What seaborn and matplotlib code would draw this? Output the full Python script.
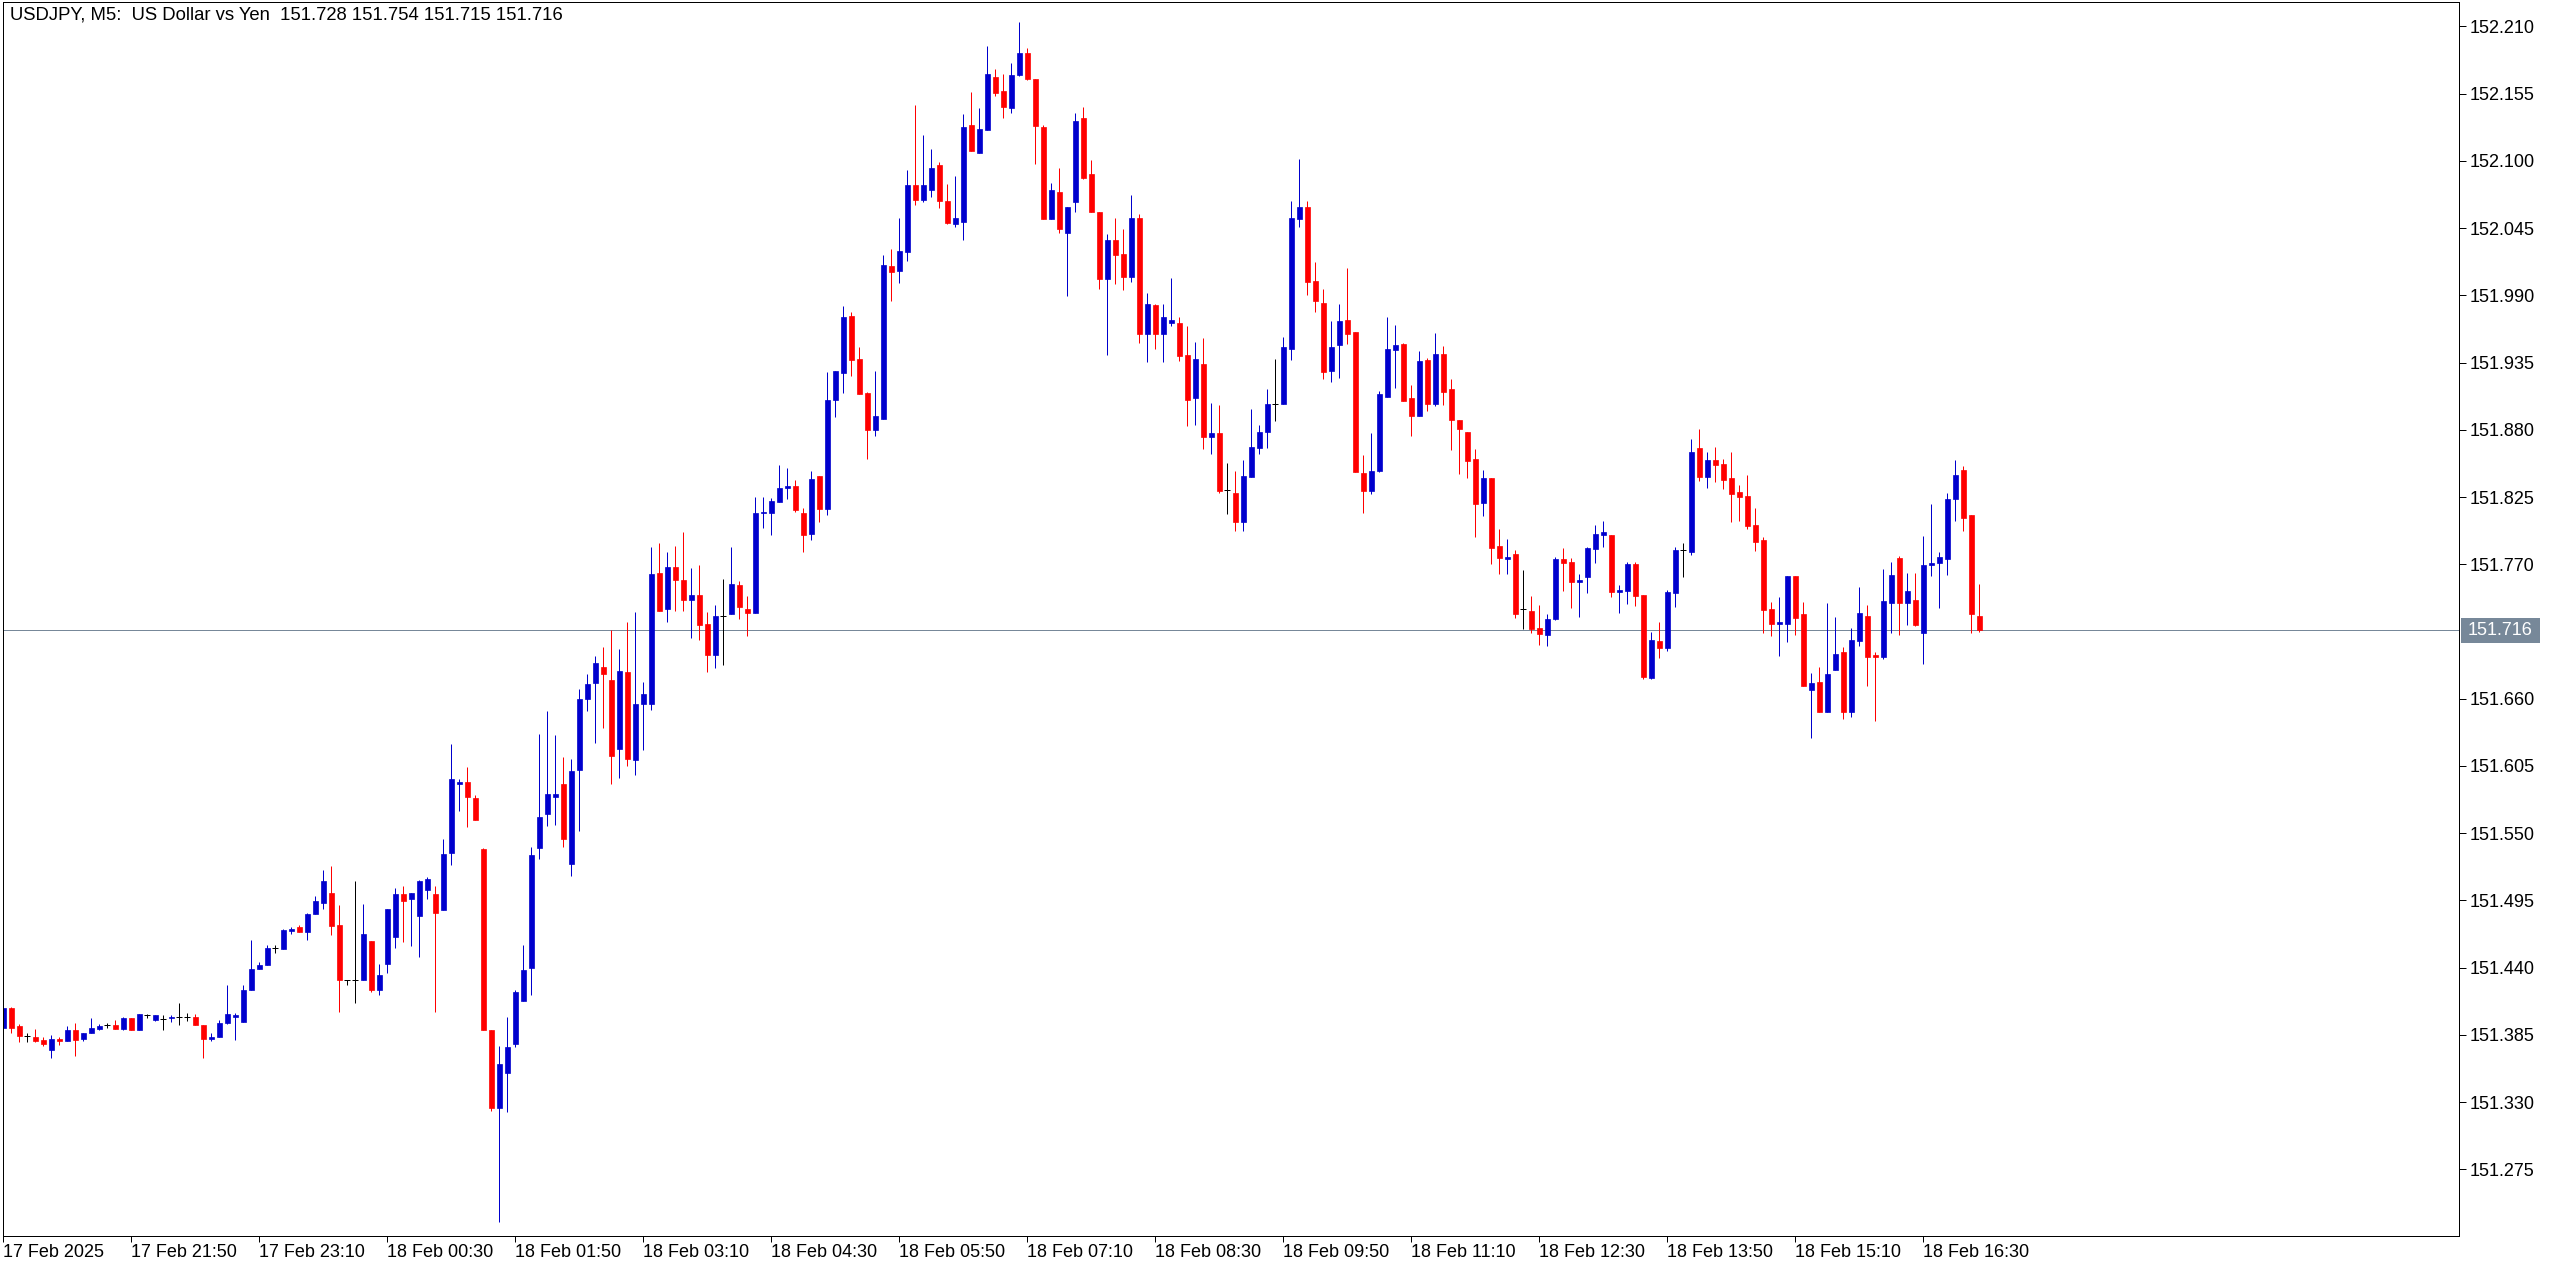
import numpy as np
import pandas as pd
import matplotlib
matplotlib.use('Agg')
import matplotlib.pyplot as plt
import matplotlib.transforms as mtransforms
from matplotlib.patches import Rectangle
import seaborn as sns

# USDJPY M5, 17 Feb 2025 20:30 -> 18 Feb 2025 17:05 (248 bars)
open_ = [
    151.3903, 151.4072, 151.3925, 151.3843, 151.3835, 151.3811, 151.3723, 151.3819, 151.3797, 151.3892,
    151.3813, 151.3862, 151.3901, 151.3933, 151.3933, 151.3901, 151.3991, 151.3892, 151.4015, 151.3969,
    151.3982, 151.3985, 151.3999, 151.3999, 151.3999, 151.3933, 151.3813, 151.3829, 151.3949, 151.3993,
    151.3952, 151.4214, 151.4386, 151.4419, 151.4563, 151.4550, 151.4697, 151.4735, 151.4689, 151.4836,
    151.4926, 151.5013, 151.4751, 151.4296, 151.4296, 151.4296, 151.4621, 151.4214, 151.4427, 151.4648,
    151.5005, 151.4959, 151.4820, 151.5033, 151.5005, 151.4869, 151.5335, 151.5905, 151.5922, 151.5791,
    151.5374, 151.3892, 151.3249, 151.3535, 151.3772, 151.4124, 151.4394, 151.5376, 151.5654, 151.5794,
    151.5905, 151.5245, 151.6015, 151.6600, 151.6726, 151.6863, 151.6756, 151.6186, 151.6822, 151.6096,
    151.6554, 151.6554, 151.7632, 151.7332, 151.7681, 151.7575, 151.7405, 151.7452, 151.7214, 151.6955,
    151.7280, 151.7291, 151.7534, 151.7337, 151.7305, 151.8117, 151.8117, 151.8213, 151.8322, 151.8344,
    151.8123, 151.7946, 151.8426, 151.8150, 151.9048, 151.9269, 151.9735, 151.9383, 151.9105, 151.8802,
    151.8892, 152.0144, 152.0103, 152.0251, 152.0807, 152.0684, 152.0766, 152.0963, 152.0676, 152.0480,
    152.0504, 152.1290, 152.1061, 152.1249, 152.1683, 152.1568, 152.1429, 152.1699, 152.1879, 152.1666,
    152.1274, 152.0521, 152.0742, 152.0414, 152.0660, 152.1355, 152.0889, 152.0578, 152.0038, 152.0349,
    152.0242, 152.0054, 152.0529, 151.9588, 151.9825, 151.9588, 151.9678, 151.9678, 151.9416, 151.9064,
    151.9342, 151.8745, 151.8777, 151.8308, 151.8286, 151.8049, 151.8417, 151.8655, 151.8786, 151.9012,
    151.9015, 151.9465, 152.0521, 152.0627, 152.0021, 151.9841, 151.9285, 151.9498, 151.9702, 151.9604,
    151.8450, 151.8303, 151.8466, 151.9072, 151.9457, 151.9506, 151.9064, 151.8917, 151.9375, 151.9015,
    151.9424, 151.9138, 151.8884, 151.8786, 151.8565, 151.8205, 151.8402, 151.7853, 151.7747, 151.7788,
    151.7332, 151.7321, 151.7182, 151.7125, 151.7256, 151.7747, 151.7722, 151.7559, 151.7600, 151.7829,
    151.7943, 151.7943, 151.7477, 151.7485, 151.7706, 151.7452, 151.6773, 151.7076, 151.7019, 151.7469,
    151.7821, 151.7804, 151.8655, 151.8418, 151.8557, 151.8524, 151.8402, 151.8295, 151.8262, 151.8025,
    151.7902, 151.7338, 151.7215, 151.7215, 151.7608, 151.7297, 151.6675, 151.6740, 151.6494, 151.6838,
    151.6985, 151.6494, 151.7076, 151.7280, 151.6961, 151.6945, 151.7386, 151.7755, 151.7386, 151.7411,
    151.7141, 151.7697, 151.7714, 151.7747, 151.8238, 151.8475, 151.8107, 151.7280,
]
high = [
    151.4072, 151.4081, 151.3941, 151.3862, 151.3901, 151.3830, 151.3851, 151.3835, 151.3925, 151.3950,
    151.3868, 151.3991, 151.3941, 151.3950, 151.3974, 151.3999, 151.3991, 151.4023, 151.4023, 151.4015,
    151.4015, 151.4015, 151.4113, 151.4031, 151.4023, 151.3933, 151.3868, 151.3974, 151.4260, 151.4031,
    151.4260, 151.4629, 151.4449, 151.4588, 151.4588, 151.4719, 151.4735, 151.4751, 151.4850, 151.4989,
    151.5202, 151.5234, 151.4915, 151.4296, 151.5112, 151.4923, 151.4621, 151.4432, 151.4882, 151.5054,
    151.5071, 151.5013, 151.5120, 151.5144, 151.5071, 151.5455, 151.6233, 151.5946, 151.6045, 151.5815,
    151.5382, 151.3892, 151.3761, 151.3999, 151.4220, 151.4588, 151.5390, 151.6315, 151.6500, 151.6306,
    151.6126, 151.6110, 151.6680, 151.6800, 151.6953, 151.7026, 151.7165, 151.7010, 151.7231, 151.7313,
    151.6740, 151.7845, 151.7877, 151.7804, 151.7853, 151.7967, 151.7673, 151.7697, 151.7313, 151.7370,
    151.7583, 151.7845, 151.7566, 151.7444, 151.8254, 151.8254, 151.8246, 151.8516, 151.8491, 151.8393,
    151.8164, 151.8467, 151.8426, 151.9277, 151.9285, 151.9817, 151.9768, 151.9481, 151.9113, 151.9285,
    152.0234, 152.0283, 152.0537, 152.0922, 152.1454, 152.1208, 152.1094, 152.0987, 152.0815, 152.0873,
    152.1380, 152.1560, 152.1429, 152.1936, 152.1748, 152.1707, 152.1805, 152.2133, 152.1920, 152.1666,
    152.1290, 152.0823, 152.0938, 152.0627, 152.1396, 152.1445, 152.1004, 152.0578, 152.0398, 152.0537,
    152.0447, 152.0725, 152.0562, 151.9923, 151.9833, 151.9833, 152.0046, 151.9719, 151.9653, 151.9522,
    151.9555, 151.9023, 151.9007, 151.8532, 151.8466, 151.8557, 151.8974, 151.8843, 151.9138, 151.9383,
    151.9563, 152.0668, 152.1012, 152.0676, 152.0177, 151.9956, 151.9694, 151.9833, 152.0128, 151.9604,
    151.8597, 151.8777, 151.9121, 151.9719, 151.9661, 151.9514, 151.9163, 151.9449, 151.9384, 151.9596,
    151.9482, 151.9212, 151.8884, 151.8786, 151.8647, 151.8475, 151.8402, 151.7992, 151.7911, 151.7821,
    151.7657, 151.7444, 151.7370, 151.7297, 151.7763, 151.7837, 151.7755, 151.7624, 151.7845, 151.8025,
    151.8058, 151.7943, 151.7534, 151.7722, 151.7722, 151.7452, 151.7149, 151.7231, 151.7493, 151.7845,
    151.7878, 151.8721, 151.8803, 151.8622, 151.8663, 151.8565, 151.8622, 151.8352, 151.8434, 151.8164,
    151.7927, 151.7395, 151.7436, 151.7608, 151.7608, 151.7395, 151.6814, 151.6863, 151.7386, 151.7272,
    151.7026, 151.7182, 151.7517, 151.7370, 151.6985, 151.7665, 151.7722, 151.7771, 151.7632, 151.7632,
    151.7935, 151.8197, 151.7804, 151.8287, 151.8557, 151.8508, 151.8107, 151.7540,
]
low = [
    151.3903, 151.3862, 151.3789, 151.3789, 151.3794, 151.3759, 151.3658, 151.3764, 151.3797, 151.3674,
    151.3802, 151.3862, 151.3887, 151.3903, 151.3895, 151.3892, 151.3887, 151.3887, 151.3985, 151.3966,
    151.3887, 151.3952, 151.3928, 151.3966, 151.3928, 151.3658, 151.3802, 151.3829, 151.3936, 151.3805,
    151.3952, 151.4214, 151.4386, 151.4419, 151.4517, 151.4550, 151.4672, 151.4689, 151.4623, 151.4836,
    151.4877, 151.4664, 151.4034, 151.4255, 151.4108, 151.4296, 151.4198, 151.4173, 151.4353, 151.4558,
    151.4607, 151.4574, 151.4484, 151.4959, 151.4034, 151.4869, 151.5237, 151.5679, 151.5548, 151.5605,
    151.3887, 151.3224, 151.2316, 151.3216, 151.3748, 151.4124, 151.4173, 151.5286, 151.5556, 151.5565,
    151.5384, 151.5147, 151.5515, 151.6500, 151.6235, 151.6358, 151.5900, 151.5949, 151.6047, 151.5973,
    151.6178, 151.6505, 151.7315, 151.7225, 151.7315, 151.7315, 151.7094, 151.7078, 151.6816, 151.6849,
    151.6874, 151.7291, 151.7250, 151.7111, 151.7299, 151.7995, 151.7937, 151.8207, 151.8232, 151.8126,
    151.7798, 151.7900, 151.8050, 151.8100, 151.8909, 151.9105, 151.9244, 151.9097, 151.8565, 151.8753,
    151.8892, 151.9850, 152.0005, 152.0185, 152.0643, 152.0660, 152.0701, 152.0611, 152.0480, 152.0463,
    152.0357, 152.1077, 152.1061, 152.1249, 152.1535, 152.1347, 152.1396, 152.1691, 152.1658, 152.0971,
    152.0521, 152.0521, 152.0414, 151.9891, 152.0578, 152.0848, 152.0586, 151.9956, 151.9416, 151.9997,
    151.9940, 152.0013, 151.9514, 151.9359, 151.9465, 151.9359, 151.9653, 151.9367, 151.8835, 151.8843,
    151.8647, 151.8606, 151.8286, 151.8115, 151.7976, 151.7976, 151.8417, 151.8606, 151.8655, 151.8876,
    151.9015, 151.9375, 152.0463, 151.9907, 151.9768, 151.9219, 151.9195, 151.9228, 151.9506, 151.8458,
    151.8123, 151.8278, 151.8458, 151.9072, 151.9146, 151.9039, 151.8753, 151.8917, 151.8958, 151.8999,
    151.9007, 151.8639, 151.8442, 151.8410, 151.7927, 151.8099, 151.7706, 151.7624, 151.7624, 151.7264,
    151.7174, 151.7141, 151.7043, 151.7035, 151.7248, 151.7485, 151.7346, 151.7272, 151.7469, 151.7714,
    151.7845, 151.7436, 151.7305, 151.7379, 151.7362, 151.6765, 151.6765, 151.6937, 151.6994, 151.7354,
    151.7600, 151.7780, 151.8385, 151.8328, 151.8377, 151.8320, 151.8050, 151.8058, 151.7992, 151.7812,
    151.7141, 151.7117, 151.6953, 151.7068, 151.7125, 151.6708, 151.6282, 151.6494, 151.6494, 151.6838,
    151.6437, 151.6454, 151.7035, 151.6707, 151.6421, 151.6928, 151.7141, 151.7125, 151.7206, 151.7198,
    151.6887, 151.7607, 151.7346, 151.7616, 151.8058, 151.7976, 151.7141, 151.7150,
]
close = [
    151.4072, 151.3903, 151.3838, 151.3843, 151.3802, 151.3772, 151.3819, 151.3802, 151.3892, 151.3811,
    151.3868, 151.3909, 151.3925, 151.3933, 151.3895, 151.3991, 151.3892, 151.4023, 151.4015, 151.4015,
    151.3982, 151.3999, 151.3999, 151.3999, 151.3928, 151.3813, 151.3835, 151.3949, 151.4023, 151.4015,
    151.4220, 151.4391, 151.4424, 151.4563, 151.4563, 151.4711, 151.4719, 151.4689, 151.4841, 151.4948,
    151.5112, 151.4738, 151.4296, 151.4296, 151.4296, 151.4678, 151.4214, 151.4342, 151.4882, 151.5005,
    151.4942, 151.5013, 151.5112, 151.5128, 151.4844, 151.5333, 151.5946, 151.5922, 151.5794, 151.5605,
    151.3887, 151.3249, 151.3614, 151.3753, 151.4203, 151.4383, 151.5324, 151.5635, 151.5824, 151.5824,
    151.5450, 151.6012, 151.6600, 151.6720, 151.6895, 151.6800, 151.6129, 151.6830, 151.6104, 151.6560,
    151.6642, 151.7624, 151.7315, 151.7681, 151.7569, 151.7405, 151.7452, 151.7201, 151.6955, 151.7280,
    151.7280, 151.7542, 151.7348, 151.7299, 151.8123, 151.8131, 151.8221, 151.8327, 151.8344, 151.8142,
    151.7937, 151.8401, 151.8150, 151.9048, 151.9285, 151.9727, 151.9375, 151.9097, 151.8802, 151.8917,
    152.0152, 152.0095, 152.0259, 152.0799, 152.0684, 152.0807, 152.0946, 152.0676, 152.0496, 152.0529,
    152.1274, 152.1077, 152.1257, 152.1707, 152.1552, 152.1445, 152.1699, 152.1879, 152.1666, 152.1282,
    152.0521, 152.0758, 152.0447, 152.0627, 152.1323, 152.0864, 152.0586, 152.0030, 152.0349, 152.0234,
    152.0054, 152.0537, 151.9588, 151.9833, 151.9588, 151.9727, 151.9702, 151.9408, 151.9048, 151.9383,
    151.8745, 151.8777, 151.8303, 151.8308, 151.8049, 151.8426, 151.8663, 151.8786, 151.9015, 151.9012,
    151.9481, 152.0537, 152.0627, 152.0013, 151.9858, 151.9277, 151.9481, 151.9694, 151.9588, 151.8458,
    151.8303, 151.8466, 151.9097, 151.9465, 151.9498, 151.9039, 151.8917, 151.9367, 151.9015, 151.9424,
    151.9113, 151.8884, 151.8803, 151.8549, 151.8197, 151.8402, 151.7837, 151.7755, 151.7763, 151.7297,
    151.7332, 151.7174, 151.7133, 151.7256, 151.7747, 151.7714, 151.7559, 151.7575, 151.7837, 151.7951,
    151.7968, 151.7477, 151.7493, 151.7706, 151.7444, 151.6781, 151.7084, 151.7019, 151.7477, 151.7821,
    151.7821, 151.8622, 151.8418, 151.8557, 151.8516, 151.8393, 151.8279, 151.8254, 151.8017, 151.7886,
    151.7330, 151.7215, 151.7231, 151.7608, 151.7264, 151.6708, 151.6732, 151.6494, 151.6806, 151.6969,
    151.6494, 151.7084, 151.7305, 151.6945, 151.6945, 151.7403, 151.7616, 151.7386, 151.7485, 151.7206,
    151.7697, 151.7714, 151.7763, 151.8238, 151.8434, 151.8082, 151.7296, 151.7160,
]

last_price = 151.716
price_ticks = [152.210, 152.155, 152.100, 152.045, 151.990, 151.935, 151.880, 151.825, 151.770,
               151.660, 151.605, 151.550, 151.495, 151.440, 151.385, 151.330, 151.275]
time_tick_bars = [0, 16, 32, 48, 64, 80, 96, 112, 128, 144, 160, 176, 192, 208, 224, 240]
time_tick_labels = ['17 Feb 2025', '17 Feb 21:50', '17 Feb 23:10', '18 Feb 00:30', '18 Feb 01:50',
                    '18 Feb 03:10', '18 Feb 04:30', '18 Feb 05:50', '18 Feb 07:10', '18 Feb 08:30',
                    '18 Feb 09:50', '18 Feb 11:10', '18 Feb 12:30', '18 Feb 13:50', '18 Feb 15:10',
                    '18 Feb 16:30']
title = 'USDJPY, M5:  US Dollar vs Yen  151.728 151.754 151.715 151.716'

sns.set_style('white')
plt.rcParams['font.family'] = ['Liberation Sans', 'DejaVu Sans']

df = pd.DataFrame({'open': open_, 'high': high, 'low': low, 'close': close})
df['bar'] = np.arange(len(df))
bull_c = '#0000CD'
bear_c = '#FF0000'
flat_c = '#000000'
df['color'] = np.where(df['close'] > df['open'], bull_c,
                       np.where(df['close'] < df['open'], bear_c, flat_c))

W, H = 2556, 1270
fig = plt.figure(figsize=(W / 100, H / 100), dpi=100)
fig.patch.set_facecolor('white')
ax = fig.add_axes([3 / W, 34 / H, 2456 / W, 1234 / H])
ax.set_facecolor('white')

px = 0.72  # one pixel in points

# wicks
ax.vlines(df['bar'], df['low'], df['high'], colors=df['color'], linewidth=px)

# bodies
body = df[df['close'] != df['open']]
ax.bar(body['bar'], (body['close'] - body['open']).abs(),
       bottom=body[['open', 'close']].min(axis=1), width=0.625,
       color=body['color'], edgecolor=body['color'], linewidth=0.5)

# doji cross bars
flat = df[df['close'] == df['open']]
ax.hlines(flat['open'], flat['bar'] - 0.34, flat['bar'] + 0.34, colors=flat_c, linewidth=px)

# current price line and label
ax.axhline(last_price, color='#778899', linewidth=px, zorder=0)
trans = mtransforms.blended_transform_factory(ax.transAxes, ax.transData)
ax.add_patch(Rectangle((1.0008, last_price - 0.0102), 0.0322, 0.0204, transform=trans,
                       facecolor='#778899', edgecolor='none', clip_on=False))
ax.text(1.0037, last_price, '%.3f' % last_price, transform=trans, color='white',
        fontsize=13, va='center', ha='left', clip_on=False)

ax.set_xlim(0, 307)
ax.set_ylim(151.2205, 152.2300)

ax.yaxis.tick_right()
ax.set_yticks(price_ticks)
ax.set_yticklabels(['%.3f' % p for p in price_ticks])
ax.set_xticks(time_tick_bars)
ax.set_xticklabels(time_tick_labels, ha='left')

ax.tick_params(axis='y', which='both', left=False, right=True, direction='out',
               length=5, width=px, pad=3, labelsize=13, colors='black')
ax.tick_params(axis='x', which='both', bottom=True, top=False, direction='out',
               length=4, width=px, pad=2, labelsize=13, colors='black')

for s in ax.spines.values():
    s.set_visible(True)
    s.set_color('black')
    s.set_linewidth(px)

ax.grid(False)
fig.text(10 / W, 1 - 19.5 / H, title, fontsize=13.3, color='black', ha='left', va='baseline')

fig.savefig('out.png', dpi=100, facecolor='white')
